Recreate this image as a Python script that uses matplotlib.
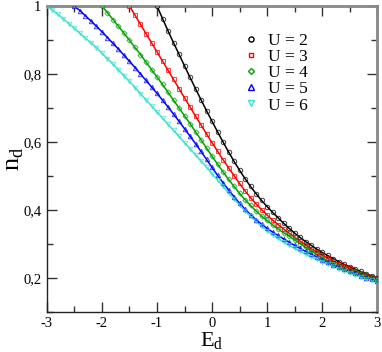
import numpy as np
import matplotlib
matplotlib.use("Agg")
import matplotlib.pyplot as plt
from matplotlib.ticker import MultipleLocator, FixedLocator, FixedFormatter

# n_d(E_d), step 0.1 in E_d, each curve starts at E_d = -U/2
U_vals = [2, 3, 4, 5, 6]

n_U2 = [1.000, 0.963, 0.927, 0.892, 0.858, 0.824, 0.790, 0.757, 0.724, 0.692,
        0.661, 0.630, 0.600, 0.571, 0.543, 0.517, 0.492, 0.469, 0.448, 0.428,
        0.410, 0.393, 0.377, 0.361, 0.346, 0.332, 0.319, 0.307, 0.296, 0.285,
        0.275, 0.266, 0.257, 0.248, 0.240, 0.233, 0.226, 0.219, 0.212, 0.206,
        0.200]

n_U3 = [1.000, 0.973, 0.946, 0.919, 0.892, 0.865, 0.838, 0.811, 0.784, 0.757,
        0.730, 0.703, 0.676, 0.650, 0.624, 0.598, 0.573, 0.548, 0.524, 0.501,
        0.478, 0.456, 0.436, 0.418, 0.401, 0.385, 0.370, 0.357, 0.344, 0.332,
        0.320, 0.308, 0.297, 0.286, 0.276, 0.267, 0.258, 0.250, 0.242, 0.235,
        0.228, 0.221, 0.214, 0.208, 0.202, 0.196]

n_U4 = [1.000, 0.980, 0.960, 0.940, 0.920, 0.899, 0.878, 0.857, 0.835, 0.813,
        0.791, 0.769, 0.746, 0.723, 0.700, 0.677, 0.654, 0.630, 0.606, 0.582,
        0.558, 0.535, 0.512, 0.490, 0.469, 0.449, 0.430, 0.413, 0.397, 0.382,
        0.369, 0.356, 0.344, 0.333, 0.323, 0.312, 0.301, 0.290, 0.280, 0.269,
        0.259, 0.250, 0.242, 0.235, 0.228, 0.222, 0.216, 0.210, 0.205, 0.200,
        0.195]

n_U5 = [1.000, 0.986, 0.971, 0.956, 0.940, 0.924, 0.907, 0.890, 0.873, 0.855,
        0.837, 0.819, 0.800, 0.781, 0.762, 0.743, 0.723, 0.703, 0.682, 0.661,
        0.639, 0.617, 0.595, 0.572, 0.549, 0.525, 0.502, 0.480, 0.459, 0.439,
        0.420, 0.402, 0.386, 0.371, 0.358, 0.346, 0.335, 0.325, 0.315, 0.305,
        0.296, 0.287, 0.278, 0.270, 0.262, 0.254, 0.246, 0.239, 0.232, 0.225,
        0.219, 0.213, 0.207, 0.201, 0.196, 0.191]

n_U6 = [1.000, 0.988, 0.975, 0.962, 0.948, 0.934, 0.920, 0.905, 0.892, 0.877,
        0.861, 0.845, 0.829, 0.812, 0.795, 0.778, 0.760, 0.742, 0.724, 0.706,
        0.688, 0.670, 0.652, 0.634, 0.616, 0.598, 0.580, 0.562, 0.544, 0.526,
        0.507, 0.488, 0.469, 0.450, 0.432, 0.414, 0.397, 0.381, 0.366, 0.352,
        0.339, 0.327, 0.316, 0.306, 0.296, 0.287, 0.278, 0.270, 0.262, 0.255,
        0.248, 0.241, 0.234, 0.227, 0.221, 0.215, 0.209, 0.203, 0.198, 0.193,
        0.188]

curves = [n_U2, n_U3, n_U4, n_U5, n_U6]
colors = ["black", "red", "#00a000", "blue", "#40e0d0"]
markers = ["o", "s", "D", "^", "v"]
msizes = [3.2, 3.0, 2.6, 3.2, 3.2]

plt.rcParams["font.family"] = ["Liberation Serif", "DejaVu Serif"]

fig = plt.figure(figsize=(3.82, 3.52), dpi=100)
ax = fig.add_axes([0.123, 0.114, 0.864, 0.869])

for U, n, col, mk, ms in zip(U_vals, curves, colors, markers, msizes):
    E = -U / 2 + 0.1 * np.arange(len(n))
    ax.plot(E, n, "-", color=col, lw=1.1, zorder=2)
    ax.plot(E, n, ls="none", marker=mk, ms=ms, mfc="none", mec=col,
            mew=0.7, alpha=0.75, zorder=3, label=f"U = {U}")

ax.set_xlim(-3, 3)
ax.set_ylim(0.1, 1.0)

ax.xaxis.set_major_locator(MultipleLocator(1))
ax.xaxis.set_minor_locator(MultipleLocator(0.5))
ax.yaxis.set_major_locator(FixedLocator([0.2, 0.4, 0.6, 0.8, 1.0]))
ax.yaxis.set_major_formatter(FixedFormatter(["0,2", "0,4", "0,6", "0,8", "1"]))
ax.yaxis.set_minor_locator(MultipleLocator(0.1))
ax.set_xticks([-3, -2, -1, 0, 1, 2, 3])
ax.set_xticklabels(["-3", "-2", "-1", "0", "1", "2", "3"])

ax.tick_params(which="both", direction="in", top=True, right=True,
               labelsize=10.5, color="#333333")
ax.tick_params(which="major", length=7, width=1.0, pad=4)
ax.tick_params(which="minor", length=4, width=1.0)

for side in ["left", "bottom"]:
    ax.spines[side].set_color("#222222")
    ax.spines[side].set_linewidth(1.0)
for side in ["top", "right"]:
    ax.spines[side].set_color("#888888")
    ax.spines[side].set_linewidth(2.0)

ax.set_xlabel("E$_\\mathregular{d}$", fontsize=16, labelpad=0)
ax.set_ylabel("n$_\\mathregular{d}$", fontsize=19, labelpad=-2)

leg = ax.legend(loc="upper left", bbox_to_anchor=(0.575, 0.935), frameon=False,
                fontsize=12.5, handlelength=0.8, handletextpad=0.6,
                labelspacing=0.0, borderaxespad=0, markerscale=1.15)
for h in leg.legend_handles:
    h.set_alpha(1.0)
    h.set_markeredgewidth(1.0)

fig.savefig("out.png", dpi=100)
